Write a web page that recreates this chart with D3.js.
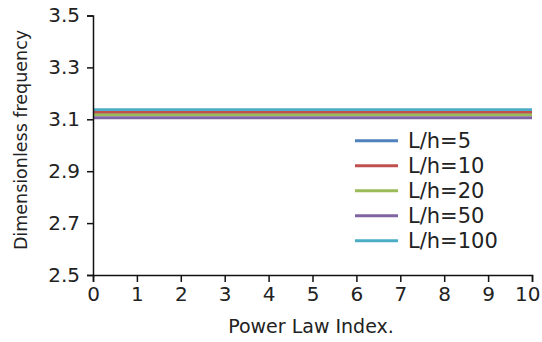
<!DOCTYPE html>
<html>
<head>
<meta charset="utf-8">
<script src="https://cdn.jsdelivr.net/npm/d3@7"></script>
<style>
  html, body { margin: 0; padding: 0; background: #fff; }
  svg text { font-family: "DejaVu Sans", sans-serif; fill: #222; }
</style>
</head>
<body>
<svg id="chart" width="542" height="342"></svg>
<script>
// Power law index values along the x axis
const powerIndex = [0, 1, 2, 3, 4, 5, 6, 7, 8, 9, 10];

// Dimensionless frequency for each slenderness ratio
const seriesNames = ["L/h=5", "L/h=10", "L/h=20", "L/h=50", "L/h=100"];
const lh5   = [3.127, 3.127, 3.127, 3.127, 3.127, 3.127, 3.127, 3.127, 3.127, 3.127, 3.127];
const lh10  = [3.127, 3.127, 3.127, 3.127, 3.127, 3.127, 3.127, 3.127, 3.127, 3.127, 3.127];
const lh20  = [3.117, 3.117, 3.117, 3.117, 3.117, 3.117, 3.117, 3.117, 3.117, 3.117, 3.117];
const lh50  = [3.106, 3.106, 3.106, 3.106, 3.106, 3.106, 3.106, 3.106, 3.106, 3.106, 3.106];
const lh100 = [3.137, 3.137, 3.137, 3.137, 3.137, 3.137, 3.137, 3.137, 3.137, 3.137, 3.137];
const seriesValues = [lh5, lh10, lh20, lh50, lh100];
const seriesColors = ["#4f81bd", "#c0504d", "#9bbb59", "#8064a2", "#4bacc6"];

// Axis ticks
const xTicks = [0, 1, 2, 3, 4, 5, 6, 7, 8, 9, 10];
const yTicks = [2.5, 2.7, 2.9, 3.1, 3.3, 3.5];

const svg = d3.select("#chart");
const margin = { top: 15.5, right: 10, bottom: 67, left: 93 };
const width = 542, height = 342;

const x = d3.scaleLinear().domain([0, 10]).range([margin.left, width - margin.right]);
const y = d3.scaleLinear().domain([2.5, 3.5]).range([height - margin.bottom, margin.top]);

// Series lines
const line = d3.line().x((d, i) => x(powerIndex[i])).y(d => y(d));
svg.append("g").selectAll("path")
  .data(seriesValues)
  .join("path")
  .attr("fill", "none")
  .attr("stroke", (d, i) => seriesColors[i])
  .attr("stroke-width", 2.8)
  .attr("d", line);

// Axes
const xAxis = svg.append("g")
  .attr("transform", `translate(0,${height - margin.bottom})`)
  .call(d3.axisBottom(x).tickValues(xTicks).tickFormat(d3.format("d")).tickSize(7).tickPadding(5));
const yAxis = svg.append("g")
  .attr("transform", `translate(${margin.left},0)`)
  .call(d3.axisLeft(y).tickValues(yTicks).tickFormat(d3.format(".1f")).tickSize(6).tickPadding(7));

[xAxis, yAxis].forEach(g => {
  g.select(".domain").attr("stroke", "#111").attr("stroke-width", 1.5);
  g.selectAll(".tick line").attr("stroke", "#111").attr("stroke-width", 1.5);
  g.selectAll(".tick text").attr("font-size", 20).attr("fill", "#222")
    .attr("font-family", "DejaVu Sans, sans-serif");
});

// Keep the last x label inside the right edge
xAxis.selectAll(".tick text")
  .filter(d => d === 10)
  .attr("text-anchor", "end")
  .attr("dx", 8);

// Axis titles
svg.append("text")
  .attr("x", 311)
  .attr("y", 333)
  .attr("text-anchor", "middle")
  .attr("font-size", 19)
  .text("Power Law Index.");

svg.append("text")
  .attr("transform", "translate(27,140) rotate(-90)")
  .attr("text-anchor", "middle")
  .attr("font-size", 17.5)
  .text("Dimensionless frequency");

// Legend
const legend = svg.append("g").selectAll("g")
  .data(seriesNames)
  .join("g")
  .attr("transform", (d, i) => `translate(355,${140.7 + i * 25})`);
legend.append("line")
  .attr("x1", 0).attr("x2", 43)
  .attr("stroke", (d, i) => seriesColors[i])
  .attr("stroke-width", 3);
legend.append("text")
  .attr("x", 53)
  .attr("dy", "0.35em")
  .attr("font-size", 21)
  .text(d => d);
</script>
</body>
</html>
